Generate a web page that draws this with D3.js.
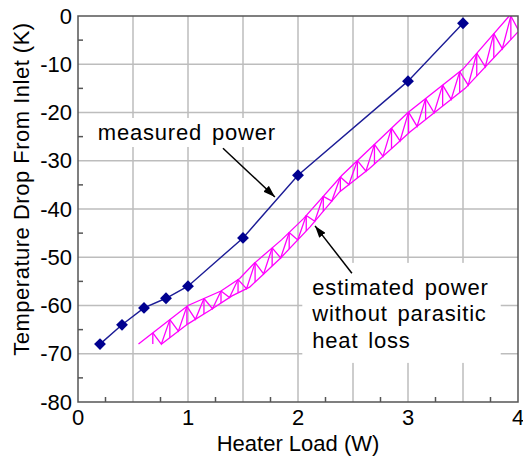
<!DOCTYPE html>
<html>
<head>
<meta charset="UTF-8">
<script src="https://d3js.org/d3.v7.min.js"></script>
<style>
  body { margin: 0; background: #fff; }
  text { font-family: Arial, "Liberation Sans", sans-serif; }
</style>
</head>
<body>
<div id="chart"></div>
<script>
// measured data (blue diamonds)
var measuredLoad = [0.2, 0.4, 0.6, 0.8, 1.0, 1.5, 2.0, 3.0, 3.5];
var measuredTemp = [-68, -64, -60.5, -58.5, -56, -46, -33, -13.5, -1.5];

// estimated power band, upper/left edge and lower/right edge
var estUpperLoad = [0.55, 1.0, 1.3, 1.47, 1.6, 1.85, 2.05, 2.4, 3.0, 3.5, 3.92];
var estUpperTemp = [-68, -60, -57, -54.4, -51.3, -46.4, -42, -33, -20, -11, 0];
var estLowerLoad = [0.76, 1.0, 1.2, 1.4, 1.56, 1.84, 2.11, 2.38, 2.65, 3.02, 3.29, 3.52, 4.0];
var estLowerTemp = [-68, -63.8, -61, -58, -56.2, -50.2, -43.7, -36.4, -31.6, -24, -19.1, -15, -3.3];

var xTicks = [0, 1, 2, 3, 4];
var yTicks = [0, -10, -20, -30, -40, -50, -60, -70, -80];

var xTitle = "Heater Load (W)";
var yTitle = "Temperature Drop From Inlet (K)";

var W = 523, H = 457;
var pLeft = 78, pTop = 16, pRight = 518, pBottom = 402;

var svg = d3.select("#chart").append("svg")
  .attr("width", W).attr("height", H);

var x = d3.scaleLinear().domain([0, 4]).range([pLeft, pRight]);
var y = d3.scaleLinear().domain([-80, 0]).range([pBottom, pTop]);

var grid = "#bdbdbd", frame = "#555", fs = 22;

// grid
svg.append("g").selectAll("line").data(d3.range(0.5, 4, 0.5)).enter().append("line")
  .attr("x1", d => x(d)).attr("x2", d => x(d))
  .attr("y1", pTop).attr("y2", pBottom)
  .attr("stroke", grid).attr("stroke-width", 1.5);
svg.append("g").selectAll("line").data(d3.range(-70, 0, 10)).enter().append("line")
  .attr("y1", d => y(d)).attr("y2", d => y(d))
  .attr("x1", pLeft).attr("x2", pRight)
  .attr("stroke", grid).attr("stroke-width", 1.5);

// minor ticks
svg.append("g").selectAll("line").data(d3.range(0.25, 4, 0.5)).enter().append("line")
  .attr("x1", d => x(d)).attr("x2", d => x(d))
  .attr("y1", pBottom).attr("y2", pBottom - 5)
  .attr("stroke", frame).attr("stroke-width", 1.5);
svg.append("g").selectAll("line").data(d3.range(-75, 0, 10)).enter().append("line")
  .attr("y1", d => y(d)).attr("y2", d => y(d))
  .attr("x1", pLeft).attr("x2", pLeft + 5)
  .attr("stroke", frame).attr("stroke-width", 1.5);

// white label boxes (hide grid)
var boxLayer = svg.append("g");

// clip
svg.append("clipPath").attr("id", "clip").append("rect")
  .attr("x", pLeft).attr("y", pTop).attr("width", pRight - pLeft).attr("height", pBottom - pTop);

// estimated band
function interp(xs, ys, v) {
  if (v <= xs[0]) return ys[0];
  if (v >= xs[xs.length - 1]) return ys[ys.length - 1];
  var i = d3.bisectRight(xs, v) - 1;
  var t = (v - xs[i]) / (xs[i + 1] - xs[i]);
  return ys[i] + t * (ys[i + 1] - ys[i]);
}
var band = svg.append("g").attr("clip-path", "url(#clip)")
  .attr("fill", "none").attr("stroke", "#ff00ff").attr("stroke-width", 1.3);
var line = d3.line().x(d => x(d[0])).y(d => y(d[1]));
band.append("path").attr("d", line(d3.zip(estUpperLoad, estUpperTemp)));
band.append("path").attr("d", line(d3.zip(estLowerLoad, estLowerTemp)));

var step = 0.155;
var hatch = [];
var up = d => interp(estUpperLoad, estUpperTemp, d);
var lo = d => interp(estLowerLoad, estLowerTemp, d);
d3.range(0.68, 4.0, step).forEach(function(v) {
  hatch.push([[v, up(v)], [v, lo(v)]]);
  hatch.push([[v, up(v)], [v + step / 2, lo(v + step / 2)], [v + step, up(v + step)]]);
});
band.selectAll(".h").data(hatch).enter().append("path")
  .attr("d", d => line(d));

// measured
var blue = "#000090";
svg.append("path")
  .attr("d", line(d3.zip(measuredLoad, measuredTemp)))
  .attr("fill", "none").attr("stroke", "#1c1c96").attr("stroke-width", 1.4);
svg.append("g").selectAll("path").data(d3.zip(measuredLoad, measuredTemp)).enter().append("path")
  .attr("d", d3.symbol().type(d3.symbolSquare).size(70))
  .attr("transform", d => "translate(" + x(d[0]) + "," + y(d[1]) + ") rotate(45)")
  .attr("fill", blue);

// frame
svg.append("rect").attr("x", pLeft).attr("y", pTop)
  .attr("width", pRight - pLeft).attr("height", pBottom - pTop)
  .attr("fill", "none").attr("stroke", frame).attr("stroke-width", 1.5);

// tick labels
svg.append("g").selectAll("text").data(xTicks).enter().append("text")
  .attr("x", d => x(d)).attr("y", 425)
  .attr("text-anchor", "middle").attr("font-size", fs).text(d => d);
svg.append("g").selectAll("text").data(yTicks).enter().append("text")
  .attr("x", pLeft - 6).attr("y", d => y(d)).attr("dy", "0.35em")
  .attr("text-anchor", "end").attr("font-size", fs).text(d => d);

// axis titles
svg.append("text").attr("x", (pLeft + pRight) / 2).attr("y", 451)
  .attr("text-anchor", "middle").attr("font-size", fs).text(xTitle);
svg.append("text").attr("transform", "translate(29," + ((pTop + pBottom) / 2 - 20) + ") rotate(-90)")
  .attr("text-anchor", "middle").attr("font-size", fs)
  .attr("letter-spacing", 0.5).text(yTitle);

// annotations
svg.append("defs").append("marker").attr("id", "arrow")
  .attr("viewBox", "0 0 12 8").attr("refX", 12).attr("refY", 4)
  .attr("markerWidth", 12).attr("markerHeight", 8).attr("markerUnits", "userSpaceOnUse")
  .attr("orient", "auto")
  .append("path").attr("d", "M0,0 L12,4 L0,8 Z").attr("fill", "#000");

function label(lines, lx, ly, pad) {
  var t = svg.append("text").attr("x", x(lx)).attr("y", y(ly)).attr("font-size", fs)
    .attr("letter-spacing", 0.8).attr("word-spacing", 3);
  lines.forEach(function(s, i) {
    t.append("tspan").attr("x", x(lx)).attr("dy", i ? 26.5 : 0).text(s);
  });
  var b = t.node().getBBox();
  boxLayer.append("rect")
    .attr("x", b.x - pad[0]).attr("y", b.y - pad[1])
    .attr("width", b.width + pad[0] + pad[2]).attr("height", b.height + pad[1] + pad[3])
    .attr("fill", "#fff");
}
function arrow(x1, y1, x2, y2) {
  svg.append("line").attr("x1", x(x1)).attr("y1", y(y1)).attr("x2", x(x2)).attr("y2", y(y2))
    .attr("stroke", "#000").attr("stroke-width", 1.5).attr("marker-end", "url(#arrow)");
}
label(["measured power"], 0.18, -25.7, [3, 2, 3, 2]);
label(["estimated power", "without parasitic", "heat loss"], 2.13, -57.8, [9, 12, 12, 10]);
arrow(1.318, -27.4, 1.79, -37.5);
arrow(2.49, -53.3, 2.155, -43.5);
</script>
</body>
</html>
